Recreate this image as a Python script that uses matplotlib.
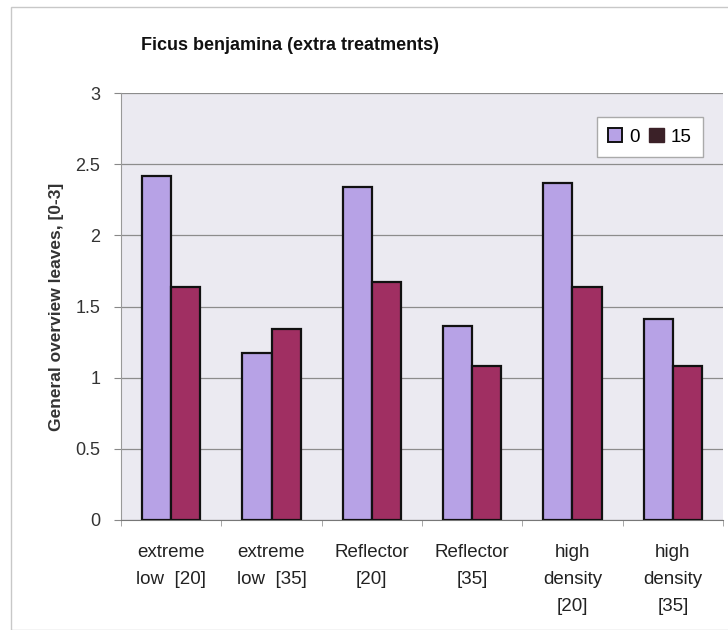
import matplotlib
matplotlib.use("Agg")
import matplotlib.pyplot as plt
from matplotlib.patches import Rectangle, Patch
import numpy as np

plt.rcParams['font.family'] = ['Liberation Sans', 'DejaVu Sans']

categories = ["extreme\nlow  [20]", "extreme\nlow  [35]", "Reflector\n[20]",
              "Reflector\n[35]", "high\ndensity\n[20]", "high\ndensity\n[35]"]
series_names = ["0", "15"]
values_0 = [2.42, 1.17, 2.34, 1.36, 2.37, 1.41]
values_15 = [1.64, 1.34, 1.67, 1.08, 1.64, 1.08]
y_ticks = [0, 0.5, 1, 1.5, 2, 2.5, 3]

c0 = "#b7a2e6"
c15 = "#a02f62"
legend_c15 = "#3b2128"

fig = plt.figure(figsize=(7.28, 6.30), dpi=100)

# outer chart border
fig.patches.append(Rectangle((11 / 728, 0.0), 1.2, (630 - 7) / 630,
                             transform=fig.transFigure, fill=False,
                             edgecolor="#c8c8c8", linewidth=1.0))

ax = fig.add_axes([121 / 728, 110 / 630, (723 - 121) / 728, (520 - 93) / 630])
ax.set_facecolor("#ebeaf1")

x = np.arange(len(categories))
w = 0.29
ax.bar(x - w / 2, values_0, width=w, color=c0, edgecolor="#111111", linewidth=1.6, zorder=3)
ax.bar(x + w / 2, values_15, width=w, color=c15, edgecolor="#111111", linewidth=1.6, zorder=3)

ax.set_xlim(-0.5, len(categories) - 0.5)
ax.set_ylim(0, 3)
ax.set_yticks(y_ticks)
ax.set_yticklabels(["0", "0.5", "1", "1.5", "2", "2.5", "3"])
ax.yaxis.grid(True, color="#8c8c8c", linewidth=0.9, zorder=1)
ax.set_axisbelow(True)

ax.set_xticks(x)
ax.set_xticklabels(categories, fontsize=13.5, linespacing=1.8, va="top", color="#222222")
ax.tick_params(axis="x", length=0, pad=17)
ax.set_xticks(np.arange(len(categories) + 1) - 0.5, minor=True)
ax.tick_params(axis="x", which="minor", length=4, color="#999999")
ax.tick_params(axis="y", length=5, color="#888888", labelsize=13, labelcolor="#333333", pad=10)

for s in ["top", "right"]:
    ax.spines[s].set_visible(False)
ax.spines["left"].set_color("#999999")
ax.spines["bottom"].set_color("#777777")

ax.set_ylabel("General overview leaves, [0-3]", fontsize=12.5, fontweight="bold",
              color="#333333", labelpad=8)

fig.text(290 / 728, 1 - 45 / 630, "Ficus benjamina (extra treatments)",
         ha="center", va="center", fontsize=13, fontweight="bold", color="#111111")

handles = [Patch(facecolor=c0, edgecolor="#111111", linewidth=1.4),
           Patch(facecolor=legend_c15, edgecolor=legend_c15)]
leg = ax.legend(handles, series_names, loc="upper right", bbox_to_anchor=(0.967, 0.944),
                ncol=2, frameon=True, fancybox=False, fontsize=13.5,
                handlelength=0.75, handleheight=0.75, handletextpad=0.4,
                columnspacing=0.5, borderpad=0.6, borderaxespad=0.0)
leg.get_frame().set_edgecolor("#aaaaaa")
leg.get_frame().set_facecolor("white")
leg.get_frame().set_alpha(1)

fig.savefig("out.png", dpi=100, facecolor="white")
